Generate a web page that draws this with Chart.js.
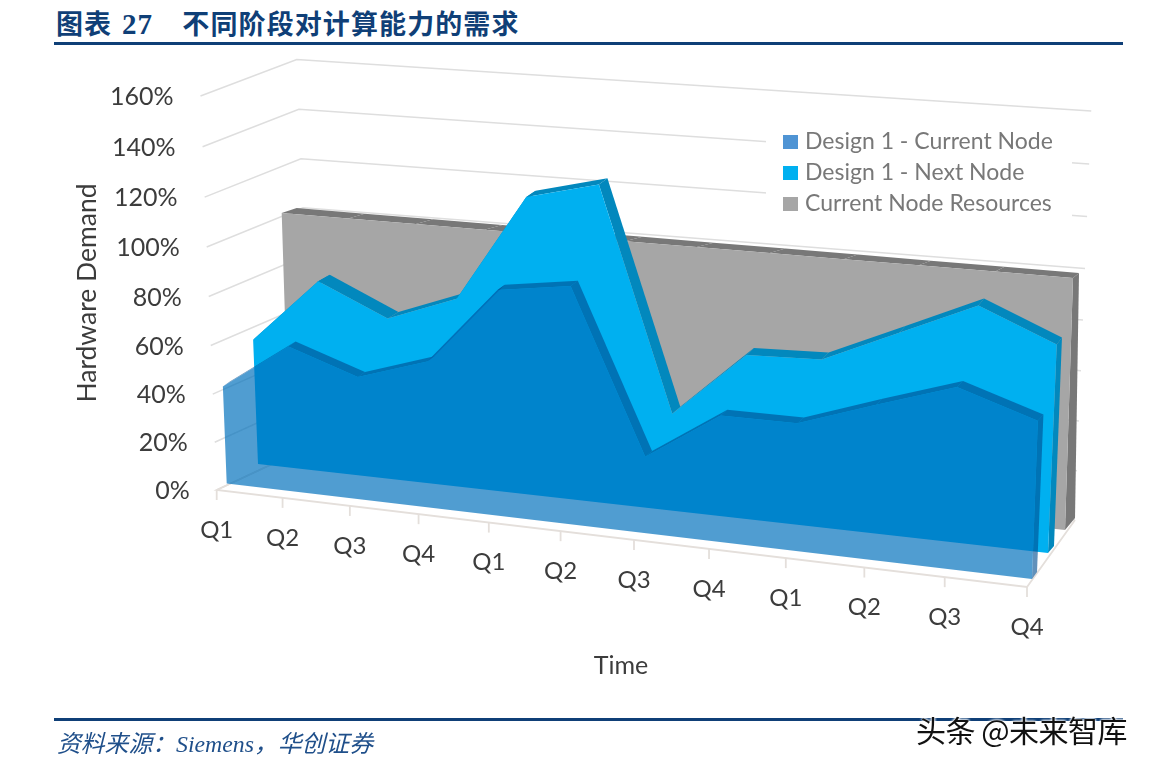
<!DOCTYPE html>
<html lang="zh">
<head>
<meta charset="utf-8">
<title>不同阶段对计算能力的需求</title>
<script src="https://cdn.jsdelivr.net/npm/chart.js@4"></script>
<style>
    html, body { margin: 0; padding: 0; background: #fff; }
    #page { position: relative; width: 1149px; height: 771px; overflow: hidden; }
    #chart { position: absolute; left: 0; top: 0; }
    .rule { position: absolute; left: 54px; width: 1069px; height: 3px; background: #0f3f77; }
    .title { position: absolute; left: 56px; top: 3px; color: #0f3f77; white-space: pre;
        font: bold 27px "Noto Sans CJK SC", sans-serif; letter-spacing: 1.1px; word-spacing: 2.5px; }
    .title b { font-family: "Liberation Serif", serif; font-size: 29px; }
    .source { position: absolute; left: 57px; top: 724px; color: #1f4f8a; white-space: pre;
        font: italic 23.8px "Liberation Serif", "Noto Sans CJK SC", serif; }
    .mark { position: absolute; left: 916px; top: 707px; color: #111; white-space: pre;
        font: 30px "Noto Sans CJK SC", sans-serif; letter-spacing: -0.5px; text-shadow: 0 0 3px #fff, 0 0 3px #fff, 0 0 3px #fff; }
</style>
</head>
<body>
<div id="page">
    <div class="title">图表 <b>27</b>   不同阶段对计算能力的需求</div>
    <div class="rule" style="top: 42px"></div>
    <canvas id="chart" width="1149" height="771"></canvas>
    <div class="rule" style="top: 718px"></div>
    <div class="source">资料来源：Siemens，华创证券</div>
    <div class="mark">头条 @未来智库</div>
</div>
<script>
(function () {
    'use strict';

    const LABELS = ['Q1', 'Q2', 'Q3', 'Q4', 'Q1', 'Q2', 'Q3', 'Q4', 'Q1', 'Q2', 'Q3', 'Q4'];
    const CURRENT = [40, 59, 49.5, 58.5, 89, 93, 30, 49, 49, 59, 68.5, 59];
    const NEXT = [52, 78.5, 66, 76.5, 119, 126, 39, 65, 66, 79, 92, 80];
    const RESOURCES = [100, 100, 100, 100, 100, 100, 100, 100, 100, 100, 100, 100];

    const GRID = '#dedede';
    const FLOOR = '#e4dfdb';
    const TICK_TEXT = '#3c3c3c';
    const LEGEND_TEXT = '#787878';
    const FONT = 'Lato, sans-serif';

    // corners of each plane at 0% and 100%: bl, br, tr, tl
    const LAYERS = [
        {
            fill: 'rgba(0, 112, 188, 0.686)', side: 'rgba(0, 78, 145, 0.62)',
            front: [[226.7, 483.5], [1032, 579], [1042, 308], [217, 237.5]],
            back: [[233.7, 478.5], [1037, 572], [1048, 302], [224, 232.5]]
        },
        {
            fill: '#00b0f0', side: '#0288bd',
            front: [[258, 464], [1048, 553], [1059, 291], [248.5, 222]],
            back: [[270, 457], [1054, 546], [1064, 284], [261, 216]]
        },
        {
            fill: '#a6a6a6', side: '#787878',
            front: [[289, 446], [1065, 530], [1073, 278], [281.7, 213]],
            back: [[304, 442], [1075, 518], [1079, 273], [296.7, 208]]
        }
    ];
    const BOX_FRONT = [[216.7, 490], [1027, 587], [1036, 314], [206.7, 247]];
    const BOX_BACK = [[313, 445], [1075, 520], [1085, 268.5], [303, 207.7]];

    // square to quad mapping, u along the time axis and v = value / 100
    function homography(q) {
        const dx1 = q[1][0] - q[2][0], dx2 = q[3][0] - q[2][0], sx = q[0][0] - q[1][0] + q[2][0] - q[3][0];
        const dy1 = q[1][1] - q[2][1], dy2 = q[3][1] - q[2][1], sy = q[0][1] - q[1][1] + q[2][1] - q[3][1];
        const det = dx1 * dy2 - dx2 * dy1;
        const g = (sx * dy2 - dx2 * sy) / det;
        const h = (dx1 * sy - sx * dy1) / det;
        const a = q[1][0] - q[0][0] + g * q[1][0], b = q[3][0] - q[0][0] + h * q[3][0];
        const d = q[1][1] - q[0][1] + g * q[1][1], e = q[3][1] - q[0][1] + h * q[3][1];
        return function (u, v) {
            const w = g * u + h * v + 1;
            return [(a * u + b * v + q[0][0]) / w, (d * u + e * v + q[0][1]) / w];
        };
    }

    function polygon(ctx, pts, color) {
        ctx.fillStyle = color;
        ctx.beginPath();
        pts.forEach((p, i) => i ? ctx.lineTo(p[0], p[1]) : ctx.moveTo(p[0], p[1]));
        ctx.closePath();
        ctx.fill();
    }

    function polyline(ctx, pts, color, width) {
        ctx.strokeStyle = color;
        ctx.lineWidth = width;
        ctx.beginPath();
        pts.forEach((p, i) => i ? ctx.lineTo(p[0], p[1]) : ctx.moveTo(p[0], p[1]));
        ctx.stroke();
    }

    function text(ctx, str, x, y, font, color, align, angle) {
        ctx.save();
        ctx.translate(x, y);
        if (angle) ctx.rotate(angle);
        ctx.font = font;
        ctx.fillStyle = color;
        ctx.textAlign = align || 'center';
        ctx.textBaseline = 'middle';
        ctx.fillText(str, 0, 0);
        ctx.restore();
    }

    function uOf(chart, px) {
        return (px - chart.scales.x.left) / chart.scales.x.width;
    }

    function vOf(chart, py) {
        const s = chart.scales.y;
        return s.getValueForPixel(py) / 100;
    }

    function drawWalls(chart) {
        const ctx = chart.ctx;
        const front = homography(BOX_FRONT);
        const back = homography(BOX_BACK);
        chart.scales.y.ticks.forEach(t => {
            const v = t.value / 100;
            polyline(ctx, [front(0, v), back(0, v), back(1, v)], GRID, 1.5);
            const p = front(0, v);
            text(ctx, t.value + '%', p[0] - 27, p[1] + 1, '25px ' + FONT, TICK_TEXT, 'right');
        });
        polyline(ctx, [back(1, 0), front(1, 0), front(0, 0), back(0, 0)], FLOOR, 1.8);
        chart.data.labels.forEach((label, i) => {
            const u = uOf(chart, chart.scales.x.getPixelForValue(i));
            const p = front(u, 0);
            const pBelow = [p[0], p[1] + 10];
            polyline(ctx, [p, pBelow], FLOOR, 1.8);
            text(ctx, label, p[0], p[1] + 40, '24px ' + FONT, TICK_TEXT);
        });
    }

    function drawLayer(chart, index) {
        const ctx = chart.ctx;
        const layer = LAYERS[index];
        const front = homography(layer.front);
        const back = homography(layer.back);
        const points = chart.getDatasetMeta(index).data;
        const uv = points.map(el => [uOf(chart, el.x), vOf(chart, el.y)]);
        const last = uv[uv.length - 1];

        // top of the extrusion, one quad per segment, then the right hand end
        uv.slice(1).forEach((p, i) => {
            const q = uv[i];
            polygon(ctx, [front(q[0], q[1]), front(p[0], p[1]), back(p[0], p[1]), back(q[0], q[1])], layer.side);
        });
        polygon(ctx, [front(last[0], 0), front(last[0], last[1]), back(last[0], last[1]), back(last[0], 0)], layer.side);

        const outline = uv.map(p => front(p[0], p[1]));
        outline.push(front(last[0], 0), front(uv[0][0], 0));
        polygon(ctx, outline, layer.fill);
    }

    function drawLegend(chart) {
        const ctx = chart.ctx;
        ctx.fillStyle = '#fff';
        ctx.fillRect(766, 128, 306, 90);
        const ys = [142, 173, 204];
        const swatches = ['#4f94d4', '#00b0f0', '#a6a6a6'];
        chart.data.datasets.forEach((ds, i) => {
            ctx.fillStyle = swatches[i];
            ctx.fillRect(783, ys[i] - 7, 15, 14);
            text(ctx, ds.label, 805, ys[i], '23px ' + FONT, LEGEND_TEXT, 'left');
        });
    }

    const perspective = {
        id: 'perspective',
        beforeDatasetsDraw(chart) {
            drawWalls(chart);
            for (let i = LAYERS.length - 1; i >= 0; i--) drawLayer(chart, i);
        },
        beforeDatasetDraw() {
            return false;
        },
        afterDatasetsDraw(chart) {
            drawLegend(chart);
            const ctx = chart.ctx;
            const opts = chart.options.scales;
            text(ctx, opts.y.title.text, 87, 293, '26.5px ' + FONT, TICK_TEXT, 'center', -Math.PI / 2);
            text(ctx, opts.x.title.text, 621, 666, '25px ' + FONT, TICK_TEXT);
        }
    };

    new Chart(document.getElementById('chart'), {
        type: 'line',
        data: {
            labels: LABELS,
            datasets: [
                { label: 'Design 1 - Current Node', data: CURRENT, fill: false, borderWidth: 0, pointRadius: 0 },
                { label: 'Design 1 - Next Node', data: NEXT, fill: false, borderWidth: 0, pointRadius: 0 },
                { label: 'Current Node Resources', data: RESOURCES, fill: false, borderWidth: 0, pointRadius: 0 }
            ]
        },
        options: {
            responsive: false,
            animation: false,
            plugins: { legend: { display: false }, tooltip: { enabled: false } },
            scales: {
                x: { display: false, title: { text: 'Time' } },
                y: { display: false, min: 0, max: 160, ticks: { stepSize: 20 }, title: { text: 'Hardware Demand' } }
            }
        },
        plugins: [perspective]
    });
})();
</script>
</body>
</html>
